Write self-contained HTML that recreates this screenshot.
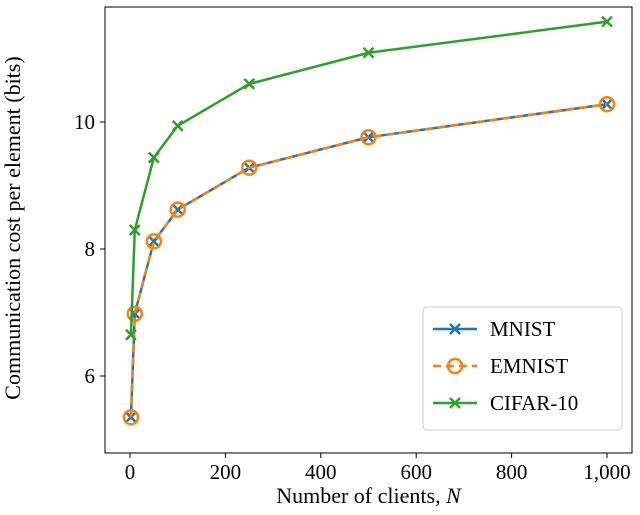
<!DOCTYPE html>
<html><head><meta charset="utf-8"><style>
body{margin:0;background:#fff}
svg text{font-family:"Liberation Serif","DejaVu Serif",serif;fill:#000}
</style></head><body>
<svg id="chart" width="640" height="510"></svg>
<script>
const clients=[2,10,50,100,250,500,1000];
const mnist=[5.35,6.98,8.12,8.62,9.28,9.76,10.28];
const emnist=[5.35,6.98,8.12,8.62,9.28,9.76,10.28];
const cifar=[6.65,8.30,9.44,9.94,10.60,11.09,11.58];
const xTicks=[0,200,400,600,800,1000];
const xTickLabels=["0","200","400","600","800","1,000"];
const yTicks=[6,8,10];
const svg=document.getElementById('chart');
const NS='http://www.w3.org/2000/svg';
const L=105,R=632,T=7,B=453;
const xs=v=>130+v*(607-130)/1000;
const ys=v=>376-(v-6)*63.5;
function mk(tag,attrs,parent){const e=document.createElementNS(NS,tag);for(const k in attrs)e.setAttribute(k,attrs[k]);(parent||svg).appendChild(e);return e;}
const frame=mk('rect',{x:L,y:T,width:R-L,height:B-T,fill:'none',stroke:'#000','stroke-width':1});


xTicks.forEach((t,i)=>{
  const l=mk('line',{x1:xs(t),x2:xs(t),y1:B,y2:B+5,stroke:'#000'});
  
  
  const tx=mk('text',{x:xs(t),y:B+26,'text-anchor':'middle','font-size':21});
  tx.textContent=xTickLabels[i];
  
  
});
yTicks.forEach(t=>{
  const l=mk('line',{x1:L-5,x2:L,y1:ys(t),y2:ys(t),stroke:'#000'});
  
  
  const tx=mk('text',{x:L-10,y:ys(t)+7,'text-anchor':'end','font-size':21});
  tx.textContent=t;
  
  
});
const xt=mk('text',{x:(L+R)/2,y:503,'text-anchor':'middle','font-size':22});
xt.innerHTML='Number of clients, <tspan font-style="italic">N</tspan>';


const yt=mk('text',{x:0,y:0,'text-anchor':'middle','font-size':22,transform:'translate(20,228) rotate(-90)'});
yt.textContent='Communication cost per element (bits)';


function cross(x,y,c,g){mk('path',{d:`M${x-5},${y-5}L${x+5},${y+5}M${x-5},${y+5}L${x+5},${y-5}`,stroke:c,'stroke-width':2.5,fill:'none'},g);}
function circ(x,y,c,g){mk('circle',{cx:x,cy:y,r:7,stroke:c,'stroke-width':2.5,fill:'none'},g);}
function series(vals,color,dash,marker,name){
  const g=mk('g',{});
  
  
  const pts=vals.map((v,i)=>xs(clients[i])+','+ys(v)).join(' ');
  mk('polyline',{points:pts,fill:'none',stroke:color,'stroke-width':2.5,'stroke-dasharray':dash},g);
  vals.forEach((v,i)=>marker(xs(clients[i]),ys(v),color,g));
}
series(mnist,'#1f77b4','none',cross,'mnist-series');
series(emnist,'#ff7f0e','8,5',circ,'emnist-series');
series(cifar,'#2ca02c','none',cross,'cifar-series');
const lg=mk('g',{});


mk('rect',{x:423,y:307,width:199,height:123,rx:4,fill:'#fff',stroke:'#ccc'},lg);
const entries=[['MNIST','#1f77b4','none',cross],['EMNIST','#ff7f0e','8,5',circ],['CIFAR-10','#2ca02c','none',cross]];
entries.forEach((e,i)=>{
  const y=329+i*37;
  const g=mk('g',{},lg);
  
  
  mk('line',{x1:433,x2:477,y1:y,y2:y,stroke:e[1],'stroke-width':2.5,'stroke-dasharray':e[2]},g);
  e[3](455,y,e[1],g);
  const t=mk('text',{x:490,y:y+7,'font-size':21},g);
  t.textContent=e[0];
});
</script>
</body></html>
